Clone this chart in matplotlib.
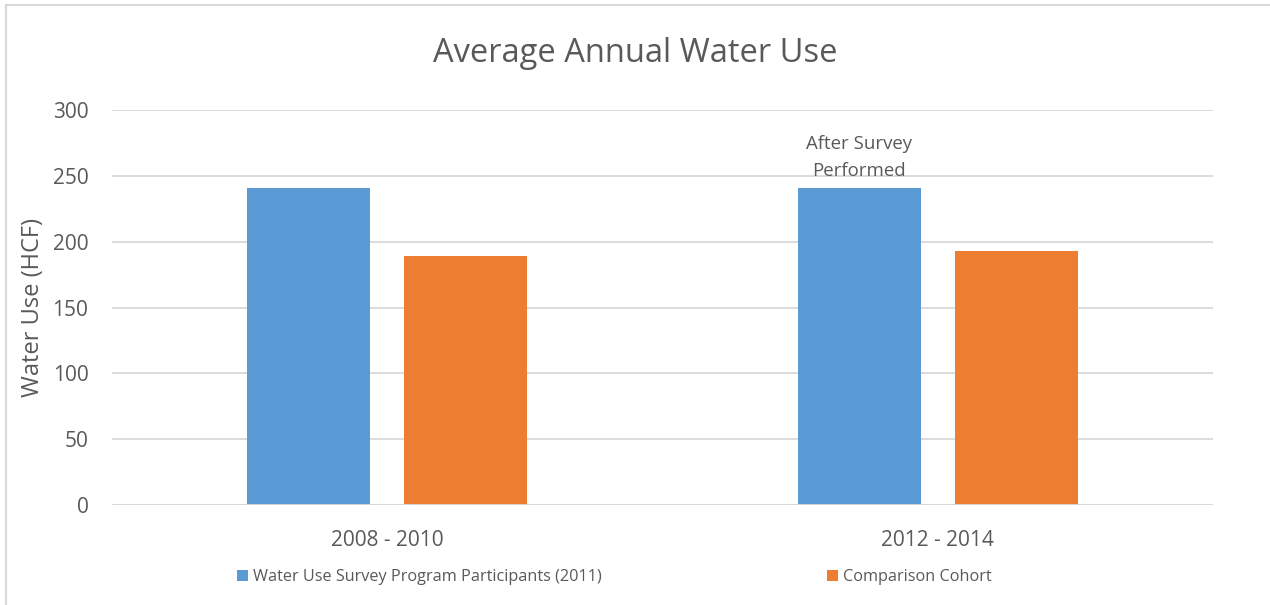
import matplotlib
matplotlib.use("Agg")
import matplotlib.pyplot as plt
import numpy as np

categories = ["2008 - 2010", "2012 - 2014"]
series_names = ["Water Use Survey Program Participants (2011)", "Comparison Cohort"]
participants = [241, 241]
comparison = [189, 193]
yticks = [0, 50, 100, 150, 200, 250, 300]
annotation = "After Survey\nPerformed"

BLUE = "#5B9BD5"
ORANGE = "#ED7D31"
TXT = "#595959"
GRID = "#D9D9D9"

plt.rcParams['font.family'] = ['Open Sans', 'DejaVu Sans']

fig = plt.figure(figsize=(12.7, 6.05), dpi=100)
W, H = 1270, 605
ax = fig.add_axes([112 / W, 1 - 505 / H, (1213 - 112) / W, (505 - 110) / H])

x = np.arange(len(categories))
width = 0.2236
off = 0.1426
ax.bar(x - off, participants, width, color=BLUE, label=series_names[0], zorder=3)
ax.bar(x + off, comparison, width, color=ORANGE, label=series_names[1], zorder=3)

ax.set_xlim(-0.5, 1.5)
ax.set_ylim(0, 300)
ax.set_yticks(yticks)
ax.set_yticklabels([str(t) for t in yticks], fontsize=15, color=TXT)
ax.set_xticks(x)
ax.set_xticklabels(categories, fontsize=15, color=TXT)
ax.tick_params(axis='y', length=0, pad=17)
ax.tick_params(axis='x', length=0, pad=18)
ax.yaxis.grid(True, color=GRID, linewidth=1.3, zorder=0)
for s in ax.spines.values():
    s.set_visible(False)
ax.axhline(0, color=GRID, linewidth=1.3, zorder=4)

ax.set_ylabel("Water Use (HCF)", fontsize=17, color=TXT)
ax.yaxis.set_label_coords((45 - 112) / (1213 - 112), 0.5)

ax.text(x[1] - off, participants[1] + 6, annotation, ha='center', va='bottom',
        fontsize=13.4, color=TXT, linespacing=1.65, zorder=5)

fig.text(0.5, 1 - 54 / H, "Average Annual Water Use", ha='center', va='center',
         fontsize=23.5, color=TXT)

leg = fig.legend(loc='center left', bbox_to_anchor=(237 / W, 1 - 577 / H), ncol=2,
                 frameon=False, fontsize=11.7, labelcolor=TXT,
                 handlelength=0.65, handleheight=0.65, handletextpad=0.35,
                 columnspacing=13.85, borderpad=0, borderaxespad=0)

# chart border (top & left visible)
fig.add_artist(plt.Line2D([6 / W, 6 / W], [0, 1 - 5 / H], transform=fig.transFigure,
                          color=GRID, linewidth=1.5))
fig.add_artist(plt.Line2D([6 / W, 1], [1 - 5 / H, 1 - 5 / H], transform=fig.transFigure,
                          color=GRID, linewidth=1.5))

fig.savefig("out.png", dpi=100)
